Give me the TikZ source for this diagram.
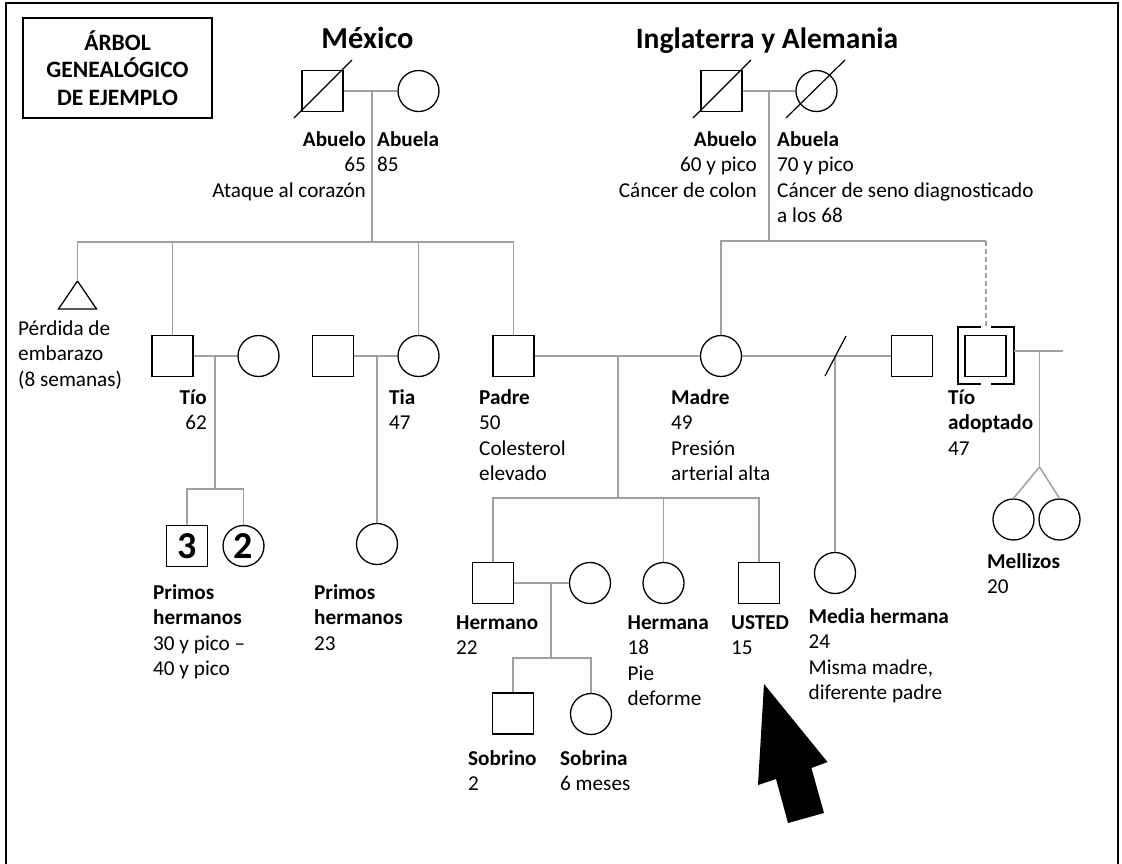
\documentclass[tikz,border=0pt]{standalone}
\usepackage{fontspec}
\setmainfont{Carlito}
\usetikzlibrary{calc}
\definecolor{conn}{RGB}{160,160,160}
\newcommand{\labL}[1]{\begin{tabular}[t]{@{}l@{}}#1\end{tabular}}
\newcommand{\labR}[1]{\begin{tabular}[t]{@{}r@{}}#1\end{tabular}}
\tikzset{
 male/.style={draw=black, line width=1.3pt, rectangle, minimum width=41pt, minimum height=41pt, inner sep=0pt},
 female/.style={draw=black, line width=1.3pt, circle, minimum size=41pt, inner sep=0pt},
 ln/.style={draw=conn, line width=1.5pt},
 lbl/.style={font=\fontsize{21.2}{25.5}\selectfont, inner sep=0pt, anchor=base west},
 lblr/.style={lbl, anchor=base east},
 ttl/.style={font=\fontsize{30.5}{34}\selectfont\bfseries, inner sep=0pt, anchor=base},
 slash/.style={draw=black, line width=1.2pt},
 bigdigit/.style={font=\fontsize{38}{38}\selectfont\bfseries},
}
\begin{document}
\begin{tikzpicture}[x=1pt,y=-1pt]
\useasboundingbox (0,0) rectangle (1122,863);
% frame
\draw[line width=2pt] (6,864) -- (6,3) -- (1118,3) -- (1118,864);
% title box
\node[draw, line width=2pt, minimum width=189pt, minimum height=100pt, inner sep=0pt, align=center,
      font=\fontsize{23.5}{27.5}\selectfont\bfseries] (title) at (117.5,68) {ÁRBOL\\GENEALÓGICO\\DE EJEMPLO};
\node[ttl] (mx) at (367.5,48) {México};
\node[ttl, font=\fontsize{29.5}{34}\selectfont\bfseries] (en) at (767,48) {Inglaterra y Alemania};

% grandparents Mexico
\node[male] (gf1) at (322.5,91) {};
\node[female] (gm1) at (418.5,91) {};
\draw[slash] ($(gf1)+(-28.5,27)$) -- ($(gf1)+(29.5,-31)$);
% grandparents England/Germany
\node[male] (gf2) at (721.5,91) {};
\node[female] (gm2) at (816.5,91) {};
\draw[slash] ($(gf2)+(-28.5,27)$) -- ($(gf2)+(29.5,-31)$);
\draw[slash] ($(gm2)+(-30.5,27)$) -- ($(gm2)+(28.5,-31)$);

% generation 2
\coordinate (mis) at (77.5,281);
\draw[line width=1.3pt] (mis) -- (96.5,309) -- (58.5,309) -- cycle;
\node[male] (tio) at (172.5,356) {};
\node[female] (tiow) at (258.5,356) {};
\node[male] (tiah) at (333,356) {};
\node[female] (tia) at (418.5,356) {};
\node[male] (padre) at (513.5,356) {};
\node[female] (madre) at (721,356) {};
\node[male] (esp2) at (912,356) {};
\node[male] (tioad) at (985.5,356) {};
% adoption brackets
\draw[line width=2.6pt] (981,327) -- (958,327) -- (958,384) -- (981,384);
\draw[line width=2.6pt] (991,327) -- (1014,327) -- (1014,384) -- (991,384);
\coordinate (adtop) at (986,327);
\coordinate (adr) at (1014,351);

% generation 3
\node[male, bigdigit] (p3) at (187,546) {3};
\node[female, bigdigit] (p2) at (243.5,546) {2};
\node[female] (pc) at (377,544) {};
\node[male] (herm) at (493,583) {};
\node[female] (hermw) at (590,583) {};
\node[female] (hna) at (663.5,583) {};
\node[male] (usted) at (759,583) {};
\node[female] (mh) at (835,573) {};
\node[female] (tw1) at (1013.5,519.5) {};
\node[female] (tw2) at (1059.5,519.5) {};
% generation 4
\node[male] (sobrino) at (513,713.5) {};
\node[female] (sobrina) at (591,714) {};

% connectors: Mexico
\coordinate (j1) at (372,91);
\coordinate (b1) at (372,242);
\draw[ln] (gf1.east) -- (gm1.west);
\draw[ln] (j1) -- (b1);
\draw[ln] (mis) -- (mis |- b1) -- (padre.north |- b1) -- (padre.north);
\draw[ln] (tio.north) -- (tio.north |- b1);
\draw[ln] (tia.north) -- (tia.north |- b1);
% England
\coordinate (j5) at (769,91);
\coordinate (b5) at (769,241);
\draw[ln] (gf2.east) -- (gm2.west);
\draw[ln] (j5) -- (b5);
\draw[ln] (madre.north) -- (madre.north |- b5) -- (adtop |- b5);
\draw[ln, dash pattern=on 5pt off 3pt] (adtop |- b5) -- (adtop);
% Tio family
\coordinate (j2) at (215,356);
\coordinate (b2) at (215,489);
\draw[ln] (tio.east) -- (tiow.west);
\draw[ln] (j2) -- (b2);
\draw[ln] (p3.north) -- (p3.north |- b2) -- (p2.north |- b2) -- (p2.north);
% Tia family
\coordinate (j3) at (377,356);
\draw[ln] (tiah.east) -- (tia.west);
\draw[ln] (j3) -- (pc.north);
% Padre Madre
\coordinate (j4) at (618,356);
\coordinate (b4) at (618,498);
\draw[ln] (padre.east) -- (madre.west);
\draw[ln] (j4) -- (b4);
\draw[ln] (herm.north) -- (herm.north |- b4) -- (usted.north |- b4) -- (usted.north);
\draw[ln] (hna.north) -- (hna.north |- b4);
% Madre second partner
\coordinate (j6) at (835,356);
\draw[ln] (madre.east) -- (esp2.west);
\draw[ln] (j6) -- (mh.north);
\draw[slash] (825,376) -- (846,336);
% adopted uncle
\coordinate (j7) at (1039.5,351);
\coordinate (ae) at (1063,351);
\coordinate (tw) at (1039.5,467);
\draw[ln] (adr) -- (ae);
\draw[ln] (j7) -- (tw);
\draw[ln] (tw) -- (tw1.north);
\draw[ln] (tw) -- (tw2.north);
% Hermano family
\coordinate (j8) at (551,583);
\coordinate (b8) at (551,658);
\draw[ln] (herm.east) -- (hermw.west);
\draw[ln] (j8) -- (b8);
\draw[ln] (sobrino.north) -- (sobrino.north |- b8) -- (sobrina.north |- b8) -- (sobrina.north);

% labels
\node[lblr] (l1) at (366,146) {\labR{\textbf{Abuelo}\\65\\Ataque al corazón}};
\node[lbl] (l2) at (377,146) {\labL{\textbf{Abuela}\\85}};
\node[lblr] (l3) at (757,146) {\labR{\textbf{Abuelo}\\60 y pico\\Cáncer de colon}};
\node[lbl] (l4) at (777,146) {\labL{\textbf{Abuela}\\70 y pico\\Cáncer de seno diagnosticado\\a los 68}};
\node[lbl] (l5) at (18,335) {\labL{Pérdida de\\embarazo\\(8 semanas)}};
\node[lblr] (l6) at (207,404) {\labR{\textbf{Tío}\\62}};
\node[lbl] (l7) at (389,404) {\labL{\textbf{Tia}\\47}};
\node[lbl] (l8) at (479,404) {\labL{\textbf{Padre}\\50\\Colesterol\\elevado}};
\node[lbl] (l9) at (671,404) {\labL{\textbf{Madre}\\49\\Presión\\arterial alta}};
\node[lbl] (l10) at (948,404) {\labL{\textbf{Tío}\\\textbf{adoptado}\\47}};
\node[lbl] (l11) at (153,599) {\labL{\textbf{Primos}\\\textbf{hermanos}\\30 y pico –\\40 y pico}};
\node[lbl] (l12) at (314,599) {\labL{\textbf{Primos}\\\textbf{hermanos}\\23}};
\node[lbl] (l13) at (456,629) {\labL{\textbf{Hermano}\\22}};
\node[lbl] (l14) at (627.5,629) {\labL{\textbf{Hermana}\\18\\Pie\\deforme}};
\node[lbl] (l15) at (731,629) {\labL{\textbf{USTED}\\15}};
\node[lbl] (l16) at (808.5,623) {\labL{\textbf{Media hermana}\\24\\Misma madre,\\diferente padre}};
\node[lbl] (l17) at (987,568) {\labL{\textbf{Mellizos}\\20}};
\node[lbl] (l18) at (468,765) {\labL{\textbf{Sobrino}\\2}};
\node[lbl] (l19) at (560,765) {\labL{\textbf{Sobrina}\\6 meses}};

% arrow
\fill[black] (764,684) -- (827.5,762) -- (811.4,768) -- (824,813) -- (788,823) -- (776,779) -- (758,785) -- cycle;
\end{tikzpicture}
\end{document}
